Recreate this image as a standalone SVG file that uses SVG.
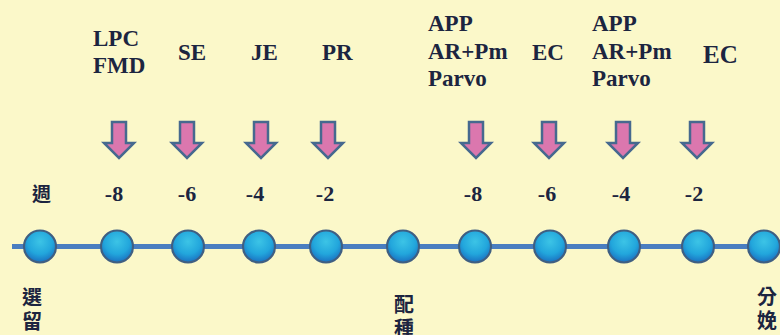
<svg xmlns="http://www.w3.org/2000/svg" width="780" height="335" viewBox="0 0 780 335">
<defs>
<radialGradient id="ball" cx="0.5" cy="0.35" r="0.65">
<stop offset="0" stop-color="#3cc4e6"/>
<stop offset="0.6" stop-color="#22a6dc"/>
<stop offset="1" stop-color="#1a6fc0"/>
</radialGradient>
<path id="arr" d="M-7,122 H7 V143 H15 L0,158 L-15,143 H-7 Z"/>
</defs>
<style>
.bg{fill:#fbf8c9}
.lbl{font-family:"Liberation Serif","Times New Roman",serif;font-weight:bold;font-size:23px;fill:#1c2540}
.num{font-family:"Liberation Serif","Times New Roman",serif;font-weight:bold;font-size:22px;fill:#1c2540;text-anchor:middle}
.cjk{font-family:"Noto Sans CJK TC","Noto Sans CJK SC",sans-serif;font-weight:bold;font-size:20px;fill:#1c2540}
.node circle{fill:url(#ball);stroke:#3f5f82;stroke-width:2.2}
.arrow use{fill:#db77ae;stroke:#46698f;stroke-width:2.5;stroke-linejoin:miter}
.line{stroke:#4a7ec0;stroke-width:5;fill:none}
</style>
<rect class="bg" width="780" height="335"/>

<g id="connectors">
<line class="line" x1="12" y1="246.5" x2="780" y2="246.5"/>
</g>

<g id="node-0" class="node"><circle cx="40" cy="246.5" r="16"/></g>
<g id="node-1" class="node"><circle cx="117" cy="246.5" r="16"/></g>
<g id="node-2" class="node"><circle cx="188" cy="246.5" r="16"/></g>
<g id="node-3" class="node"><circle cx="259" cy="246.5" r="16"/></g>
<g id="node-4" class="node"><circle cx="326" cy="246.5" r="16"/></g>
<g id="node-5" class="node"><circle cx="403" cy="246.5" r="16"/></g>
<g id="node-6" class="node"><circle cx="475" cy="246.5" r="16"/></g>
<g id="node-7" class="node"><circle cx="550" cy="246.5" r="16"/></g>
<g id="node-8" class="node"><circle cx="624" cy="246.5" r="16"/></g>
<g id="node-9" class="node"><circle cx="698" cy="246.5" r="16"/></g>
<g id="node-10" class="node"><circle cx="764" cy="246.5" r="16"/></g>

<g id="arrows" class="arrow">
<use href="#arr" x="119"/>
<use href="#arr" x="187"/>
<use href="#arr" x="261"/>
<use href="#arr" x="328"/>
<use href="#arr" x="476"/>
<use href="#arr" x="549"/>
<use href="#arr" x="623"/>
<use href="#arr" x="697"/>
</g>

<g id="vaccines">
<text class="lbl" x="93" y="46">LPC</text>
<text class="lbl" x="93" y="73">FMD</text>
<text class="lbl" x="178" y="60">SE</text>
<text class="lbl" x="251" y="60">JE</text>
<text class="lbl" x="322" y="60">PR</text>
<text class="lbl" x="428" y="31">APP</text>
<text class="lbl" x="428" y="59">AR+Pm</text>
<text class="lbl" x="428" y="86">Parvo</text>
<text class="lbl" x="532" y="60">EC</text>
<text class="lbl" x="592" y="31">APP</text>
<text class="lbl" x="592" y="59">AR+Pm</text>
<text class="lbl" x="592" y="86">Parvo</text>
<text class="lbl" x="703" y="63" style="font-size:25px">EC</text>
</g>

<g id="weeks">
<text class="cjk" x="32" y="201" style="font-size:19px">週</text>
<text class="num" x="114" y="201">-8</text>
<text class="num" x="187" y="201">-6</text>
<text class="num" x="255" y="201">-4</text>
<text class="num" x="325" y="201">-2</text>
<text class="num" x="473" y="201">-8</text>
<text class="num" x="547" y="201">-6</text>
<text class="num" x="621" y="201">-4</text>
<text class="num" x="694" y="201">-2</text>
</g>

<g id="events">
<text class="cjk" x="22" y="305">選</text>
<text class="cjk" x="22" y="329">留</text>
<text class="cjk" x="394" y="312">配</text>
<text class="cjk" x="394" y="336">種</text>
<text class="cjk" x="757" y="304">分</text>
<text class="cjk" x="757" y="328">娩</text>
</g>
</svg>
